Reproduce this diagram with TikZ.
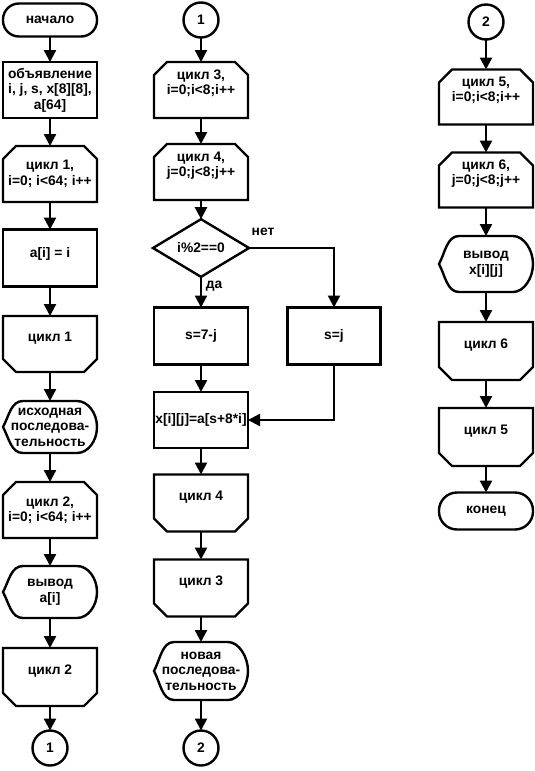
\documentclass[tikz,border=0pt]{standalone}
\usepackage{fontspec}
\setmainfont{Liberation Sans}
\usetikzlibrary{arrows.meta,shapes.geometric,calc}
\newcommand{\FlowFont}{\fontsize{13.8}{15.5}\selectfont\bfseries}
\tikzset{
 lw/.style={line width=2.4pt},
 hid/.style={rectangle, minimum width=94pt, minimum height=56pt, inner sep=1pt, outer sep=0pt, align=center, font=\FlowFont},
 box/.style={hid, draw, lw},
 term/.style={rectangle, rounded corners=16pt, draw, lw, minimum width=94pt, minimum height=33pt, outer sep=0pt, font=\FlowFont},
 conn/.style={circle, draw, lw, minimum size=35pt, inner sep=0pt, outer sep=0pt, font=\FlowFont},
 dec/.style={diamond, draw, lw, minimum width=96pt, minimum height=57pt, inner sep=0pt, outer sep=0pt, font=\FlowFont},
 disp/.style={hid, minimum height=52pt},
 arr/.style={lw, -{Triangle[length=12pt,width=12pt]}},
 lbl/.style={font=\FlowFont}
}
\newcommand{\LoopTop}[1]{\draw[lw] ([yshift=-13pt]#1.north west) -- ([xshift=13pt]#1.north west) -- ([xshift=-13pt]#1.north east) -- ([yshift=-13pt]#1.north east) -- (#1.south east) -- (#1.south west) -- cycle;}
\newcommand{\LoopBot}[1]{\draw[lw] (#1.north west) -- (#1.north east) -- ([yshift=13pt]#1.south east) -- ([xshift=-13pt]#1.south east) -- ([xshift=13pt]#1.south west) -- ([yshift=13pt]#1.south west) -- cycle;}
\newcommand{\DispShape}[1]{\draw[lw] (#1.west) .. controls ([shift={(6pt,11pt)}]#1.west) and ([xshift=8pt]#1.north west) .. ([xshift=20pt]#1.north west) -- ([xshift=-20pt]#1.north east) .. controls ([xshift=-9pt]#1.north east) and ([yshift=14pt]#1.east) .. (#1.east) .. controls ([yshift=-14pt]#1.east) and ([xshift=-9pt]#1.south east) .. ([xshift=-20pt]#1.south east) -- ([xshift=20pt]#1.south west) .. controls ([xshift=8pt]#1.south west) and ([shift={(6pt,-11pt)}]#1.west) .. (#1.west) -- cycle;}
\begin{document}
\begin{tikzpicture}[x=1pt,y=-1pt]
\useasboundingbox (0,0) rectangle (535,771);
% column A
\node[term] (start) at (50,20) {начало};
\node[box] (decl) at (50,90) {объявление\\i, j, s, x[8][8],\\a[64]};
\node[hid] (c1) at (50,174) {цикл 1,\\i=0; i<64; i++};
\node[box, minimum height=57pt] (ai) at (50,258) {a[i] = i\\[-4pt]\mbox{}};
\node[hid] (c1e) at (50,344) {цикл 1\\\mbox{}};
\node[disp] (src) at (50,427) {исходная\\последова-\\тельность};
\node[hid] (c2) at (50,510) {цикл 2,\\i=0; i<64; i++};
\node[disp] (outa) at (50,592) {вывод\\a[i]};
\node[hid, minimum height=58pt] (c2e) at (50,677) {цикл 2\\\mbox{}};
\node[conn] (k1) at (50,748) {1};
% column B
\node[conn] (k1b) at (201,20) {1};
\node[hid] (c3) at (201,90) {цикл 3,\\i=0;i<8;i++\\\mbox{}};
\node[hid] (c4) at (201,172) {цикл 4,\\j=0;j<8;j++\\\mbox{}};
\node[dec] (dia) at (201,248) {i\%2==0};
\node[box, minimum height=57pt] (s7) at (201,336) {s=7-j};
\node[box, minimum height=57pt, minimum width=93pt] (sj) at (334,336) {s=j};
\node[box] (xij) at (201,420) {x[i][j]=a[s+8*i]};
\node[hid, minimum height=57pt] (c4e) at (201,503) {цикл 4\\\mbox{}};
\node[hid, minimum height=57pt] (c3e) at (201,588) {цикл 3\\\mbox{}};
\node[disp, minimum height=58pt] (nseq) at (201,671) {новая\\последова-\\тельность};
\node[conn] (k2) at (201,748) {2};
\node[lbl] (no) at (263,232) {нет};
\node[lbl] (yes) at (214,286) {да};
% column C
\node[conn] (k2b) at (486,22) {2};
\node[hid, minimum height=55pt] (c5) at (486,97) {цикл 5,\\i=0;i<8;i++\\\mbox{}};
\node[hid, minimum height=55pt] (c6) at (486,180) {цикл 6,\\j=0;j<8;j++\\\mbox{}};
\node[disp, minimum height=56pt] (outx) at (486,264) {вывод\\x[i][j]};
\node[hid, minimum height=58pt] (c6e) at (486,351) {цикл 6\\\mbox{}};
\node[hid, minimum height=58pt] (c5e) at (486,437) {цикл 5\\\mbox{}};
\node[term, minimum height=37pt, rounded corners=18pt] (fin) at (486,511) {конец};
% shapes
\LoopTop{c1} \LoopBot{c1e} \DispShape{src} \LoopTop{c2} \DispShape{outa} \LoopBot{c2e}
\LoopTop{c3} \LoopTop{c4} \LoopBot{c4e} \LoopBot{c3e} \DispShape{nseq}
\LoopTop{c5} \LoopTop{c6} \DispShape{outx} \LoopBot{c6e} \LoopBot{c5e}
% arrows
\draw[arr] (start) -- (decl);
\draw[arr] (decl) -- (c1);
\draw[arr] (c1) -- (ai);
\draw[arr] (ai) -- (c1e);
\draw[arr] (c1e) -- (src);
\draw[arr] (src) -- (c2);
\draw[arr] (c2) -- (outa);
\draw[arr] (outa) -- (c2e);
\draw[arr] (c2e) -- (k1);
\draw[arr] (k1b) -- (c3);
\draw[arr] (c3) -- (c4);
\draw[arr] (c4) -- (dia);
\draw[arr] (dia) -- (s7);
\draw[arr] (dia.east) -| (sj.north);
\draw[arr] (s7) -- (xij);
\draw[arr] (sj.south) |- (xij.east);
\draw[arr] (xij) -- (c4e);
\draw[arr] (c4e) -- (c3e);
\draw[arr] (c3e) -- (nseq);
\draw[arr] (nseq) -- (k2);
\draw[arr] (k2b) -- (c5);
\draw[arr] (c5) -- (c6);
\draw[arr] (c6) -- (outx);
\draw[arr] (outx) -- (c6e);
\draw[arr] (c6e) -- (c5e);
\draw[arr] (c5e) -- (fin);
\end{tikzpicture}
\end{document}
